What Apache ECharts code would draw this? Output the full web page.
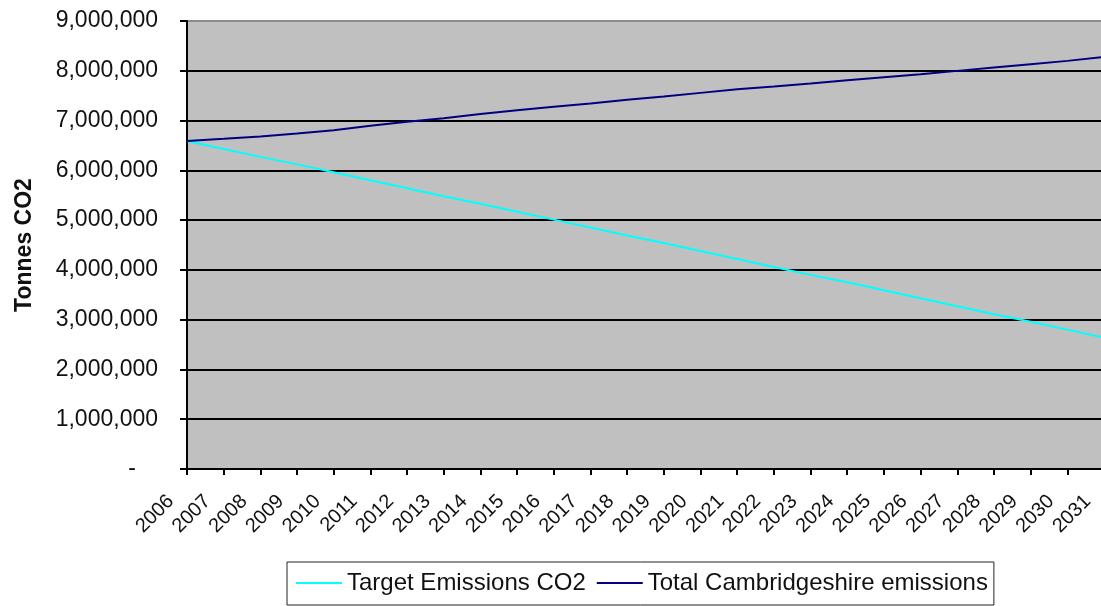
<!DOCTYPE html>
<html>
<head>
<meta charset="utf-8">
<title>Tonnes CO2</title>
<script src="https://cdn.jsdelivr.net/npm/echarts@6/dist/echarts.min.js"></script>
<style>
  html, body { margin: 0; padding: 0; background: #fff; }
  #chart { width: 1101px; height: 606px; }
</style>
</head>
<body>
<div id="chart"></div>
<script>
// Years along the category axis
const years = ['2006','2007','2008','2009','2010','2011','2012','2013','2014','2015',
  '2016','2017','2018','2019','2020','2021','2022','2023','2024','2025',
  '2026','2027','2028','2029','2030','2031'];

// Target emissions pathway (tonnes CO2)
const targetEmissions = [6590000, 6430000, 6270000, 6120000, 5960000, 5800000, 5640000,
  5480000, 5330000, 5170000, 5010000, 4850000, 4690000, 4540000, 4380000, 4220000,
  4060000, 3900000, 3750000, 3590000, 3430000, 3270000, 3110000, 2960000, 2800000, 2640000];

// Projected total Cambridgeshire emissions (tonnes CO2)
const totalEmissions = [6590000, 6633000, 6679000, 6739000, 6807000, 6894000, 6974000,
  7048000, 7130000, 7205000, 7275000, 7341000, 7416000, 7482000, 7556000, 7630000,
  7683000, 7743000, 7811000, 7871000, 7932000, 7998000, 8064000, 8132000, 8199000, 8280000];

const seriesNames = ['Target Emissions CO2', 'Total Cambridgeshire emissions'];
const seriesColors = ['#00FFFF', '#000080'];
const yAxisTitle = 'Tonnes CO2';

const FONT = '"Liberation Sans", Arial, sans-serif';

const chart = echarts.init(document.getElementById('chart'), null, { renderer: 'canvas' });

// gridlines: black, except the top one which sits on the grey plot border
const splitColors = [];
for (let i = 0; i < 9; i++) splitColors.push('#000');
splitColors.push('#8c8c8c');

chart.setOption({
  animation: false,
  backgroundColor: '#ffffff',
  textStyle: { fontFamily: FONT },
  grid: {
    left: 187, top: 21, width: 917, height: 448,
    outerBoundsMode: 'none',
    containLabel: false,
    show: true, backgroundColor: '#C0C0C0',
    borderColor: '#8c8c8c', borderWidth: 1
  },
  legend: {
    data: seriesNames,
    left: 287, top: 562,
    orient: 'horizontal',
    icon: 'rect',
    itemWidth: 46, itemHeight: 2,
    itemGap: 11,
    padding: [9, 6, 10, 9],
    borderColor: '#222', borderWidth: 1,
    backgroundColor: '#fff',
    textStyle: { fontFamily: FONT, fontSize: 24, color: '#111' }
  },
  xAxis: {
    type: 'category',
    data: years,
    boundaryGap: false,
    axisLine: { show: true, lineStyle: { color: '#000', width: 2 } },
    axisTick: { show: true, inside: false, length: 6, lineStyle: { color: '#000', width: 2 } },
    axisLabel: {
      interval: 0, rotate: 45, margin: 13,
      fontFamily: FONT, fontSize: 20, color: '#111',
      padding: [0, 23, 0, 0]
    },
    splitLine: { show: false }
  },
  yAxis: {
    type: 'value',
    min: 0, max: 9000000, interval: 1000000,
    name: yAxisTitle,
    nameLocation: 'middle',
    nameGap: 151,
    nameTextStyle: { fontFamily: FONT, fontSize: 23, fontWeight: 'bold', color: '#111' },
    axisLine: { show: true, lineStyle: { color: '#000', width: 2 } },
    axisTick: { show: true, inside: false, length: 7, lineStyle: { color: '#000', width: 2 } },
    axisLabel: {
      margin: 29,
      fontFamily: FONT, fontSize: 23, color: '#111',
      formatter: function (v) {
        if (v === 0) return '{dash|-}';
        return v.toLocaleString('en-US');
      },
      rich: {
        dash: { fontFamily: FONT, fontSize: 23, color: '#111', padding: [0, 22, 0, 0] }
      }
    },
    splitLine: { show: true, lineStyle: { color: splitColors, width: 2 } }
  },
  series: [
    {
      name: seriesNames[0],
      type: 'line',
      data: targetEmissions,
      symbol: 'none',
      lineStyle: { color: seriesColors[0], width: 2 },
      itemStyle: { color: seriesColors[0] },
      z: 2
    },
    {
      name: seriesNames[1],
      type: 'line',
      data: totalEmissions,
      symbol: 'none',
      lineStyle: { color: seriesColors[1], width: 2 },
      itemStyle: { color: seriesColors[1] },
      z: 3
    }
  ]
});
</script>
</body>
</html>
